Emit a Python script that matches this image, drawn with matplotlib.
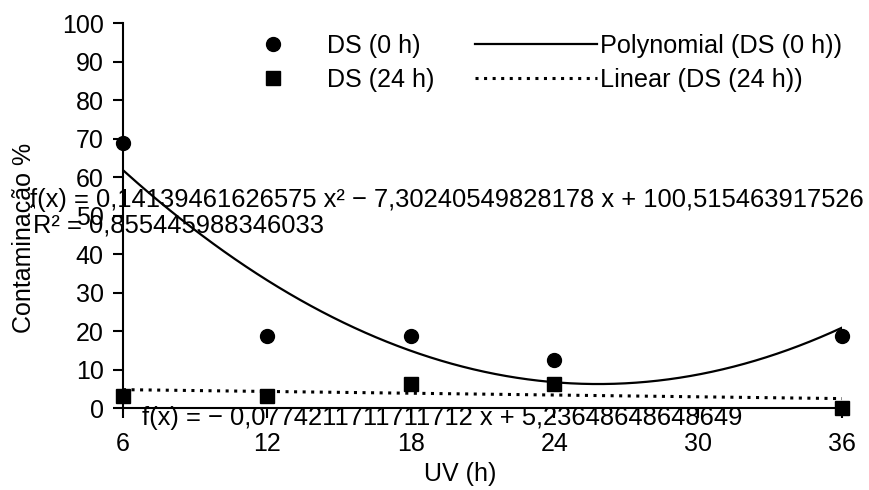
import numpy as np
import matplotlib
matplotlib.use('Agg')
import matplotlib.pyplot as plt

plt.rcParams['font.family'] = ['Liberation Sans', 'DejaVu Sans']

uv_hours = [6, 12, 18, 24, 36]
ds_0h = [68.75, 18.75, 18.75, 12.5, 18.75]
ds_24h = [3.125, 3.125, 6.25, 6.25, 0]
x_ticks = [6, 12, 18, 24, 30, 36]
y_ticks = [0, 10, 20, 30, 40, 50, 60, 70, 80, 90, 100]

eq_poly = 'f(x) = 0,14139461626575 x² − 7,30240549828178 x + 100,515463917526'
eq_r2 = 'R² = 0,855445988346033'
eq_lin = 'f(x) = − 0,0774211711711712 x + 5,23648648648649'

FS = 18

# trendlines
p2 = np.polyfit(uv_hours, ds_0h, 2)
p1 = np.polyfit(uv_hours, ds_24h, 1)
xs = np.linspace(6, 36, 200)

fig = plt.figure(figsize=(8.69, 4.90), dpi=100)
ax = fig.add_axes([0.1415, 0.1673, 0.8275, 0.7857])

m1, = ax.plot(uv_hours, ds_0h, 'o', color='black', markersize=10, label='DS (0 h)',
              zorder=3, clip_on=False)
m2, = ax.plot(uv_hours, ds_24h, 's', color='black', markersize=10, label='DS (24 h)',
              zorder=3, clip_on=False)
l1, = ax.plot(xs, np.polyval(p2, xs), color='black', linewidth=1.6,
              label='Polynomial (DS (0 h))')
l2, = ax.plot(xs, np.polyval(p1, xs), color='black', linewidth=2.2, linestyle=(0, (1, 1.8)),
              label='Linear (DS (24 h))')

ax.set_xlim(6, 36)
ax.set_ylim(0, 100)
ax.set_xticks(x_ticks)
ax.set_yticks(y_ticks)
ax.spines['top'].set_visible(False)
ax.spines['right'].set_visible(False)
ax.spines['left'].set_linewidth(1.5)
ax.spines['bottom'].set_linewidth(1.5)
ax.tick_params(labelsize=FS, width=1.5, length=7, direction='out')
ax.tick_params(axis='y', pad=7)
ax.tick_params(axis='x', pad=10)

fig.text(30 / 869, 1 - 207 / 490, eq_poly, fontsize=18.4, ha='left', va='baseline')
fig.text(33 / 869, 1 - 233 / 490, eq_r2, fontsize=18.4, ha='left', va='baseline')
fig.text(142 / 869, 1 - 425 / 490, eq_lin, fontsize=18.4, ha='left', va='baseline')

leg1 = ax.legend([m1, m2], ['DS (0 h)', 'DS (24 h)'], frameon=False, fontsize=FS,
                 loc='upper left', bbox_to_anchor=(248 / 869, 1 - 34 / 490),
                 bbox_transform=fig.transFigure, borderpad=0, borderaxespad=0,
                 handlelength=2.0, handletextpad=1.15, labelspacing=0.4)
ax.add_artist(leg1)
ax.legend([l1, l2], ['Polynomial (DS (0 h))', 'Linear (DS (24 h))'], frameon=False,
          fontsize=18.2, loc='upper left', bbox_to_anchor=(475 / 869, 1 - 34 / 490),
          bbox_transform=fig.transFigure, borderpad=0, borderaxespad=0,
          handlelength=4.82, handletextpad=0.12, labelspacing=0.4)

fig.text(0.028, 0.514, 'Contaminação %', rotation=90, fontsize=FS, ha='center', va='center')
fig.text(0.530, 0.033, 'UV (h)', fontsize=FS, ha='center', va='center')

fig.savefig('out.png', dpi=100)
